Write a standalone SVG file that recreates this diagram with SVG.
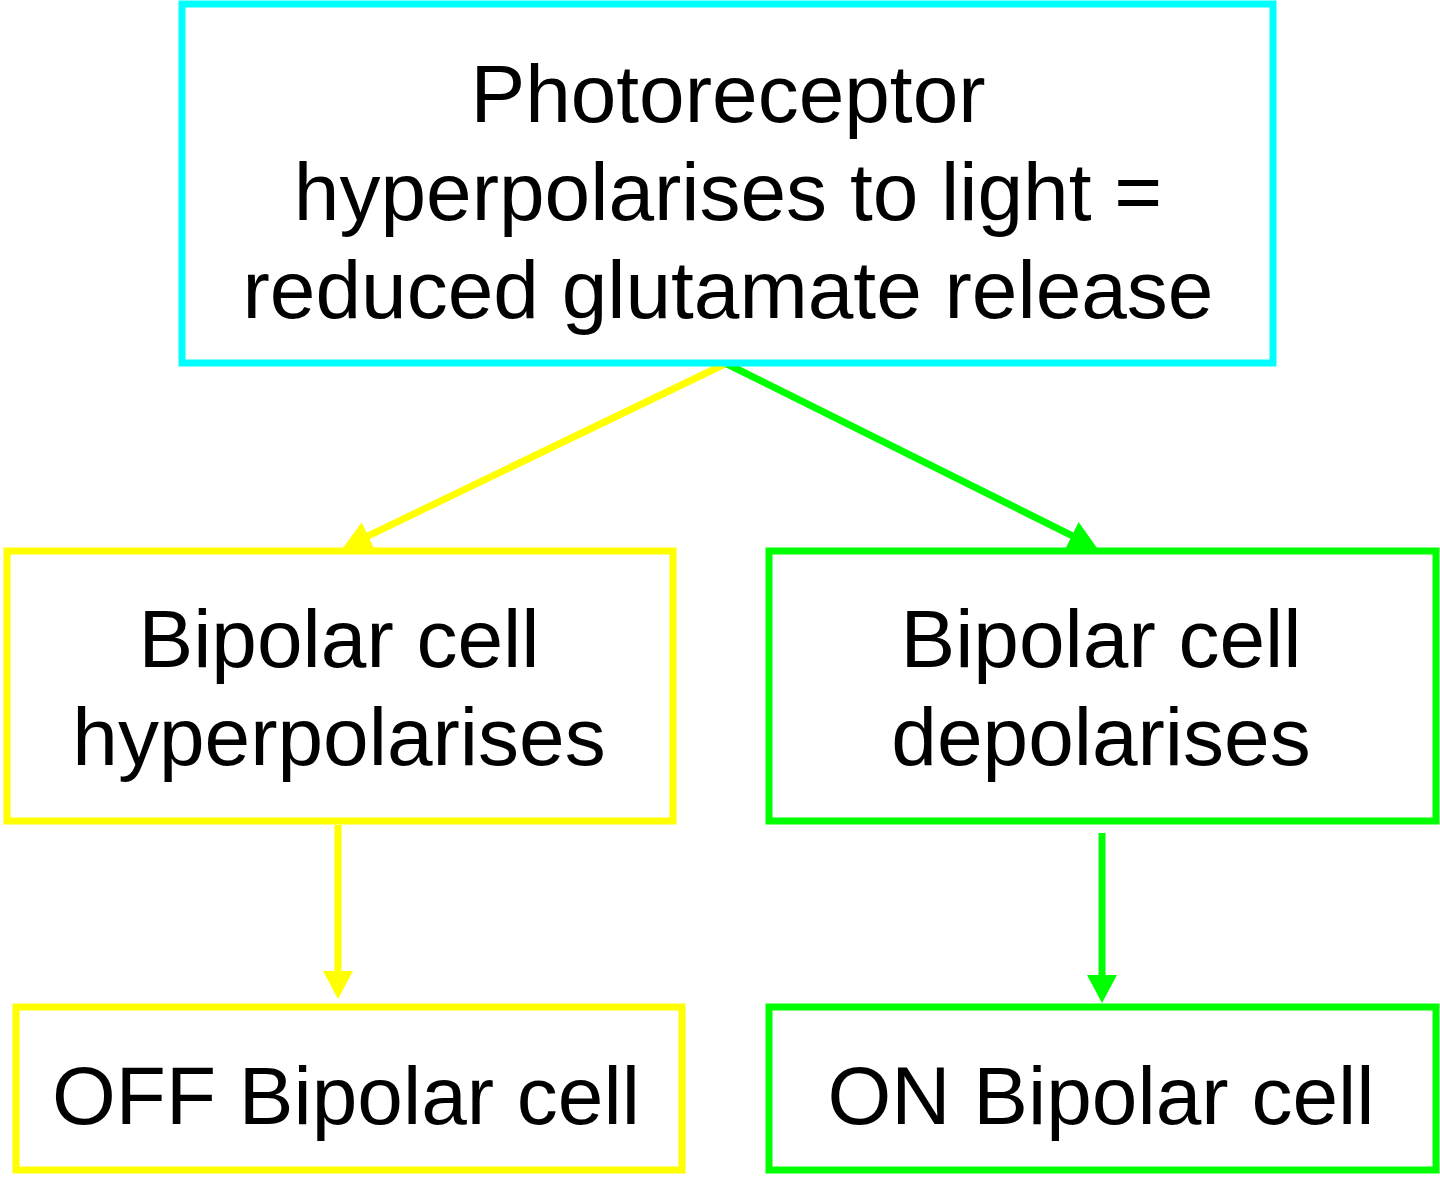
<svg xmlns="http://www.w3.org/2000/svg" width="1440" height="1192" viewBox="0 0 1440 1192">
  <defs>
    <style>
      .box { fill: #ffffff; stroke-width: 7; }
      .cyan { stroke: #00ffff; }
      .yellow { stroke: #ffff00; }
      .green { stroke: #00ff00; }
      .lbl { font-family: "Liberation Sans", Arial, sans-serif; font-size: 82px; fill: #000000; text-anchor: middle; }
      .conn { fill: none; stroke-width: 7; }
    </style>
    <marker id="arrY" markerUnits="userSpaceOnUse" markerWidth="30" markerHeight="30" refX="8" refY="15" orient="auto">
      <path d="M0,0 L28,15 L0,30 z" fill="#ffff00"/>
    </marker>
    <marker id="arrG" markerUnits="userSpaceOnUse" markerWidth="30" markerHeight="30" refX="8" refY="15" orient="auto">
      <path d="M0,0 L28,15 L0,30 z" fill="#00ff00"/>
    </marker>
  </defs>
  <rect width="1440" height="1192" fill="#ffffff"/>

  <g id="connectors">
    <line class="conn yellow" x1="725" y1="364" x2="361" y2="539.3" marker-end="url(#arrY)"/>
    <line class="conn green" x1="727" y1="364" x2="1079.1" y2="539.1" marker-end="url(#arrG)"/>
    <line class="conn yellow" x1="338" y1="825" x2="338" y2="979" marker-end="url(#arrY)"/>
    <line class="conn green" x1="1102" y1="833" x2="1102" y2="983" marker-end="url(#arrG)"/>
  </g>

  <g id="photoreceptor">
    <rect class="box cyan" x="182" y="4" width="1091" height="359"/>
    <text class="lbl" x="728" y="122">Photoreceptor</text>
    <text class="lbl" x="728" y="220">hyperpolarises to light =</text>
    <text class="lbl" x="728" y="318">reduced glutamate release</text>
  </g>

  <g id="bipolar-hyper">
    <rect class="box yellow" x="7" y="551" width="666" height="270"/>
    <text class="lbl" x="339" y="667">Bipolar cell</text>
    <text class="lbl" x="339" y="765">hyperpolarises</text>
  </g>

  <g id="bipolar-depol">
    <rect class="box green" x="769" y="551" width="667" height="270"/>
    <text class="lbl" x="1101" y="667">Bipolar cell</text>
    <text class="lbl" x="1101" y="765">depolarises</text>
  </g>

  <g id="off-bipolar">
    <rect class="box yellow" x="16" y="1007" width="666" height="163"/>
    <text class="lbl" x="346" y="1124">OFF Bipolar cell</text>
  </g>

  <g id="on-bipolar">
    <rect class="box green" x="769" y="1007" width="667" height="163"/>
    <text class="lbl" x="1101" y="1124">ON Bipolar cell</text>
  </g>
</svg>
